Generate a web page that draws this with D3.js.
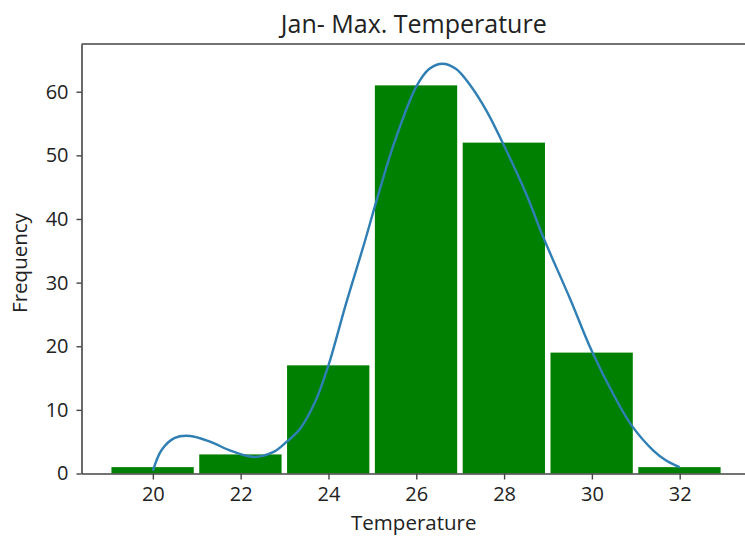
<!DOCTYPE html>
<html>
<head>
<meta charset="utf-8">
<script src="https://cdn.jsdelivr.net/npm/d3@7"></script>
<style>
  body { margin: 0; background: #fff; }
  svg text { font-family: "Open Sans", "Noto Sans", sans-serif; fill: #222; }
</style>
</head>
<body>
<svg id="chart" width="745" height="541"></svg>
<script>
// histogram bins (start, end) and counts
const binStarts = [19, 21, 23, 25, 27, 29, 31],
    binWidth = 2,
    counts = [1, 3, 17, 61, 52, 19, 1];

// density curve (temperature, frequency)
const curveX = [20.0, 20.2, 20.5, 20.85, 21.3, 21.8, 22.3, 22.75, 23.05, 23.35, 23.7, 24.0, 24.4, 24.8, 25.1, 25.5, 26.0, 26.3, 26.6, 26.9, 27.2, 27.6, 28.0, 28.5, 28.9, 29.5, 30.0, 30.5, 30.9, 31.4, 31.7, 32.0],
    curveY = [0.4, 3.7, 5.6, 5.9, 5.0, 3.5, 2.6, 3.4, 5.0, 7.0, 11.3, 17.0, 26.7, 35.8, 43, 52, 60.8, 63.6, 64.4, 63.6, 61.3, 57, 51.5, 44, 37, 27.5, 19.2, 12.3, 7.6, 3.6, 2.0, 1.0];

const xTicks = [20, 22, 24, 26, 28, 30, 32],
    yTicks = [0, 10, 20, 30, 40, 50, 60];

const svg = d3.select("#chart"),
    mLeft = 81.5, mRight = 746, mTop = 44, mBottom = 473.5;

const x = d3.scaleLinear().domain([18.375, 33.51]).range([mLeft, mRight]),
    y = d3.scaleLinear().domain([0, 67.5]).range([mBottom, mTop]);

// bars
svg.append("g").selectAll("rect")
    .data(counts)
    .enter()
    .append("rect")
    .attr("x", (d, i) => x(binStarts[i]) + 2.5)
    .attr("width", (d, i) => x(binStarts[i] + binWidth) - x(binStarts[i]) - 5.5)
    .attr("y", d => y(d))
    .attr("height", d => y(0) - y(d))
    .attr("fill", "#008000");

// density line
const pts = curveX.map((v, i) => [v, curveY[i]]);
svg.append("path")
    .datum(pts)
    .attr("fill", "none")
    .attr("stroke", "#2f7fb5")
    .attr("stroke-width", 2.4)
    .attr("d", d3.line()
        .x(d => x(d[0]))
        .y(d => y(d[1]))
        .curve(d3.curveCatmullRom));

// axes
const xAxis = svg.append("g")
    .attr("transform", `translate(0,${mBottom})`)
    .call(d3.axisBottom(x).tickValues(xTicks).tickSize(6).tickPadding(7).tickSizeOuter(0));
const yAxis = svg.append("g")
    .attr("transform", `translate(${mLeft},0)`)
    .call(d3.axisLeft(y).tickValues(yTicks).tickSize(5).tickPadding(8).tickSizeOuter(0));

[xAxis, yAxis].forEach(g => {
    g.select(".domain").attr("stroke", "#444").attr("stroke-width", 1.6);
    g.selectAll(".tick line").attr("stroke", "#444").attr("stroke-width", 1.4);
    g.selectAll(".tick text").attr("font-size", 20).attr("fill", "#222")
        .style("font-family", "'Open Sans', sans-serif");
});

// top spine
svg.append("line")
    .attr("x1", mLeft).attr("x2", mRight)
    .attr("y1", mTop).attr("y2", mTop)
    .attr("stroke", "#444").attr("stroke-width", 1.6);

// title and labels
svg.append("text")
    .attr("x", (mLeft + mRight) / 2)
    .attr("y", 33)
    .attr("text-anchor", "middle")
    .attr("font-size", 25)
    .text("Jan- Max. Temperature");

svg.append("text")
    .attr("x", (mLeft + mRight) / 2)
    .attr("y", 530)
    .attr("text-anchor", "middle")
    .attr("font-size", 20.5)
    .text("Temperature");

svg.append("text")
    .attr("transform", "translate(27,263) rotate(-90)")
    .attr("text-anchor", "middle")
    .attr("font-size", 20.5)
    .text("Frequency");
</script>
</body>
</html>
